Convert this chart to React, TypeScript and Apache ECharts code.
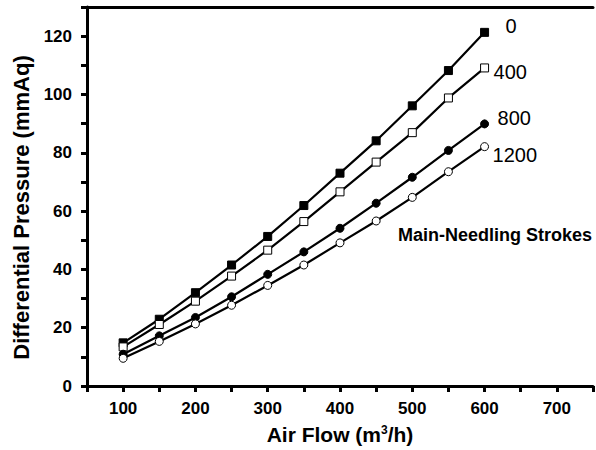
import React, { useEffect, useRef } from "react";
import * as echarts from "echarts";

const airFlow = [100, 150, 200, 250, 300, 350, 400, 450, 500, 550, 600];
const strokes0 = [14.8, 22.9, 32.0, 41.5, 51.3, 61.9, 73.0, 84.1, 96.1, 108.2, 121.3];
const strokes400 = [13.4, 21.1, 29.1, 37.7, 46.6, 56.4, 66.6, 76.8, 86.9, 98.8, 109.1];
const strokes800 = [10.9, 17.2, 23.5, 30.6, 38.3, 46.0, 54.1, 62.7, 71.6, 80.8, 89.9];
const strokes1200 = [9.5, 15.3, 21.3, 27.7, 34.5, 41.5, 49.1, 56.6, 64.7, 73.5, 82.1];
const seriesNames = ["0", "400", "800", "1200"];

export default function App() {
  const ref = useRef<HTMLDivElement>(null);
  useEffect(() => {
    if (!ref.current) return;
    const chart = echarts.init(ref.current, null, { renderer: "svg" });
    const pair = (ys: number[]) => airFlow.map((x, i) => [x, ys[i]]);
    const defs = [
      { name: seriesNames[0], data: strokes0, symbol: "rect", fill: "#000", off: [21, -6] },
      { name: seriesNames[1], data: strokes400, symbol: "rect", fill: "#fff", off: [9, 4] },
      { name: seriesNames[2], data: strokes800, symbol: "circle", fill: "#000", off: [13, -6] },
      { name: seriesNames[3], data: strokes1200, symbol: "circle", fill: "#fff", off: [8, 8] },
    ];
    const font = "Arial";
    chart.setOption({
      animation: false,
      backgroundColor: "#fff",
      grid: { left: 87, top: 7, width: 510, height: 379, containLabel: false },
      xAxis: [
        {
          type: "value",
          min: 50,
          max: 750,
          interval: 50,
          name: "{a|Air Flow (m}{s|3}{a|/h)}",
          nameLocation: "middle",
          nameGap: 38,
          nameTextStyle: {
            rich: {
              a: { fontFamily: font, fontWeight: "bold", fontSize: 21, color: "#000" },
              s: { fontFamily: font, fontWeight: "bold", fontSize: 12, color: "#000", verticalAlign: "top", padding: [0, 0, 9, 0] },
            },
          },
          axisLine: { lineStyle: { color: "#000", width: 3 } },
          axisTick: { show: true, length: 6, lineStyle: { color: "#000", width: 3 }, interval: 0 },
          axisLabel: {
            fontFamily: font,
            fontWeight: "bold",
            fontSize: 17,
            color: "#000",
            margin: 14,
            formatter: (v: number) => (v % 100 === 0 && v >= 100 && v <= 700 ? String(v) : ""),
          },
          splitLine: { show: false },
        },
        {
          type: "value",
          position: "top",
          min: 50,
          max: 750,
          axisLine: { lineStyle: { color: "#000", width: 3 } },
          axisTick: { show: false },
          axisLabel: { show: false },
          splitLine: { show: false },
        },
      ],
      yAxis: {
        type: "value",
        min: 0,
        max: 130,
        interval: 10,
        name: "Differential Pressure (mmAq)",
        nameLocation: "middle",
        nameGap: 54,
        nameTextStyle: {
          fontFamily: font,
          fontWeight: "bold",
          fontSize: 22,
          color: "#000",
          padding: [0, 22, 0, 0],
        },
        axisLine: { show: true, lineStyle: { color: "#000", width: 3 } },
        axisTick: { show: true, length: 6, lineStyle: { color: "#000", width: 3 } },
        axisLabel: {
          fontFamily: font,
          fontWeight: "bold",
          fontSize: 17,
          color: "#000",
          margin: 15,
          formatter: (v: number) => (v % 20 === 0 ? String(v) : ""),
        },
        splitLine: { show: false },
      },
      series: defs.map((d) => ({
        type: "line",
        name: d.name,
        data: pair(d.data),
        symbol: d.symbol,
        symbolSize: 8,
        showAllSymbol: true,
        lineStyle: { color: "#000", width: 2.2 },
        itemStyle: { color: d.fill, borderColor: "#000", borderWidth: 1 },
        endLabel: {
          show: true,
          formatter: d.name,
          fontFamily: font,
          fontSize: 20,
          color: "#000",
          distance: 0,
          offset: d.off,
        },
      })),
      graphic: [
        {
          type: "text",
          right: 4,
          top: 226,
          style: {
            text: "Main-Needling Strokes",
            font: `bold 18px ${font}`,
            fill: "#000",
          },
        },
      ],
    });
    return () => chart.dispose();
  }, []);
  return (
    <div
      ref={ref}
      style={{ position: "absolute", left: 0, top: 0, width: 596, height: 450 }}
    />
  );
}
